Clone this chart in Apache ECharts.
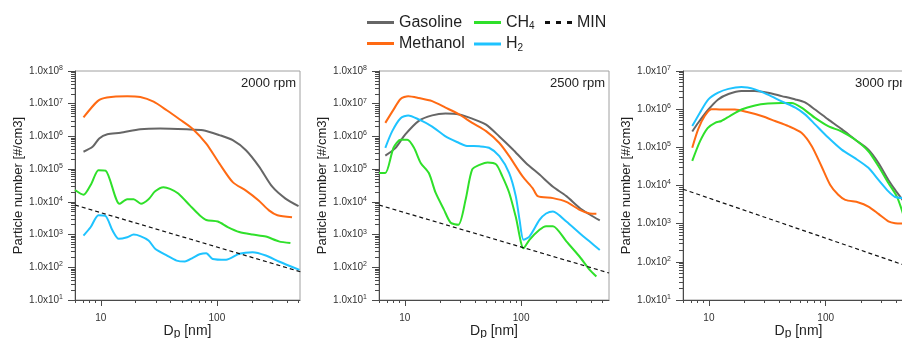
<!DOCTYPE html>
<html>
<head>
<meta charset="utf-8">
<script src="https://cdn.jsdelivr.net/npm/echarts@6.0.0/dist/echarts.min.js"></script>
<style>
  html, body { margin: 0; padding: 0; background: #fff; }
  #main { width: 902px; height: 338px; }
</style>
</head>
<body>
<div id="main"></div>
<script>
// Dp [nm] vs particle number [#/cm3]
const gas2000 = [[7.1,3.4e5],[8.5,4.8e5],[9.7,8.7e5],[11.4,1.17e6],[14.8,1.3e6],[21.9,1.65e6],[32.4,1.74e6],[55,1.65e6],[76,1.55e6],[105,1.1e6],[137,7.7e5],[178,3.8e5],[231,1.2e5],[300,2.9e4],[390,1.26e4],[505,7.4e3]];
const meth2000 = [[7.1,3.8e6],[9.4,1.2e7],[11.3,1.55e7],[16.9,1.7e7],[21.9,1.6e7],[28.5,1.15e7],[37,6.3e6],[48,3.3e6],[62,1.7e6],[81,6e5],[105,1.5e5],[137,4e4],[178,2.2e4],[229,1.1e4],[281,5.5e3],[332,3.9e3],[444,3.4e3]];
const ch42000 = [[6,2.3e4],[7.1,1.65e4],[8.3,3.6e4],[9.55,9.3e4],[11,9e4],[14.5,8.7e3],[16.9,1.2e4],[19.2,1.2e4],[22.2,8.7e3],[25.8,1.2e4],[29.4,2.1e4],[34.7,2.8e4],[39.5,2.5e4],[46.5,1.8e4],[58.5,7.8e3],[71,3.9e3],[81,2.8e3],[102,2.5e3],[124,1.7e3],[156,1.2e3],[203,1e3],[264,8.7e2],[342,6.2e2],[430,5.5e2]];
const h22000 = [[7.1,9.3e2],[8.2,1.7e3],[9.55,3.9e3],[11,3.7e3],[12.6,1.35e3],[14.3,7.4e2],[16.9,8.3e2],[19.2,1e3],[21.9,9e2],[25.8,6.6e2],[29.4,3.7e2],[37,2.3e2],[45,1.6e2],[53,1.5e2],[62,1.95e2],[71,2.5e2],[81,2.7e2],[92,1.8e2],[120,1.7e2],[156,2.6e2],[203,2.9e2],[264,2.3e2],[342,1.5e2],[515,83]];

const gas2500 = [[6.8,2.6e5],[8.3,4.4e5],[10.1,1.15e6],[13.2,3e6],[17.2,4.4e6],[22.4,5e6],[29.3,4.7e6],[38,3.5e6],[50,2.3e6],[65,1e6],[85,4e5],[110,1.55e5],[144,6.8e4],[188,2.9e4],[245,1.5e4],[319,6.5e3],[389,4.1e3],[475,2.7e3]];
const meth2500 = [[6.8,2.6e6],[8,6.6e6],[9.2,1.4e7],[10.7,1.7e7],[13.2,1.5e7],[17.2,1.2e7],[22.4,7.6e6],[29.3,4.7e6],[38,2.6e6],[50,1.45e6],[65,6.3e5],[79,2.5e5],[103,6e4],[126,2.6e4],[139,1.5e4],[188,1.3e4],[245,1e4],[319,5.7e3],[389,4.4e3],[444,4.3e3]];
const ch42500 = [[6,7.6e4],[6.8,7.6e4],[8,4.5e5],[9.2,7.9e5],[10.5,7.9e5],[12,4.5e5],[13.7,1.55e5],[16.1,7.6e4],[18.4,1.9e4],[21.7,5.8e3],[24.8,2.3e3],[28.9,2e3],[33.4,1.2e4],[38,9.8e4],[45,1.4e5],[51.5,1.6e5],[61,1.4e5],[69,6e4],[79,1.9e4],[90,3.5e3],[105,3.8e2],[118,6.9e2],[144,1.4e3],[164,1.8e3],[188,1.8e3],[245,6.2e2],[319,2.1e2],[389,83],[444,52]];
const h22500 = [[6.8,4.5e5],[7.8,1.45e6],[9.2,3.6e6],[10.7,4.4e6],[13.2,3.3e6],[17.2,2e6],[22.4,1e6],[29.3,6.3e5],[33.4,5.2e5],[43.6,5e5],[53,4.5e5],[65,2.5e5],[79,7.6e4],[90,1.5e4],[97,2.8e3],[105,6.9e2],[118,8.7e2],[144,2.8e3],[164,4.4e3],[188,5.1e3],[245,2.5e3],[319,1.1e3],[389,6.1e2],[475,3.4e2]];

const gas3000 = [[7.2,2.6e5],[8.1,4.4e5],[9.9,9.8e5],[12,1.8e6],[14.7,2.5e6],[19,3e6],[24.8,3e6],[32,2.7e6],[42,2.2e6],[55,1.8e6],[66.5,1.5e6],[81,9.8e5],[105,5.4e5],[137,3e5],[178,1.6e5],[232,8.7e4],[283,3.9e4],[344,1.4e4],[393,7.7e3],[466,3.8e3]];
const meth3000 = [[7.2,9.8e4],[8.1,3e5],[9.2,6.6e5],[10.5,1e6],[12.8,9.8e5],[16.7,9.8e5],[21.7,8.3e5],[28.3,6.6e5],[36.8,4.9e5],[48,3.6e5],[62,2.4e5],[76,1.07e5],[92,3.2e4],[109,1.05e4],[128,5.7e3],[147,4.2e3],[191,3.6e3],[232,2.8e3],[283,1.8e3],[344,1.15e3],[393,1.03e3],[466,1e3]];
const ch43000 = [[7.2,4.4e4],[8.4,1.45e5],[9.75,3.2e5],[11.3,4.4e5],[12.8,4.9e5],[15.1,6.6e5],[19,9.8e5],[24.8,1.25e6],[32,1.4e6],[42,1.45e6],[51,1.45e6],[62,1.1e6],[81,5.9e5],[105,3.6e5],[137,2.6e5],[178,1.6e5],[232,7.9e4],[283,3.2e4],[344,1.17e4],[406,5.2e3],[448,2.3e3],[466,1.55e3]];
const h23000 = [[7.2,3.6e5],[8.4,8.2e5],[9.9,1.8e6],[12,2.7e6],[14.7,3.4e6],[19,3.8e6],[24.8,3.3e6],[32,2.4e6],[42,1.6e6],[55,1.1e6],[66.5,7.3e5],[81,4e5],[105,1.8e5],[137,8.7e4],[178,5.2e4],[232,2.9e4],[283,1.4e4],[344,7e3],[393,5e3],[466,4.7e3]];

// detection limit, same straight line (log-log) in every panel
const minLine = [[6,8000],[570,67]];

const rpmLabels = ['2000 rpm', '2500 rpm', '3000 rpm'];
const dpMajor = [10, 100];
const dpMinor = [6,7,8,9,20,30,40,50,60,70,80,90,200,300,400,500];

const font = 'Liberation Sans, Arial, sans-serif';
const colors = { Gasoline: '#666666', Methanol: '#ff6a13', CH4: '#2fe02a', H2: '#1ec3ff', MIN: '#111111' };

const panels = [
  { left: 75,  width: 225, xMax: 520, yMax: 1e8, data: { Gasoline: gas2000, Methanol: meth2000, CH4: ch42000, H2: h22000 } },
  { left: 379, width: 230, xMax: 570, yMax: 1e8, data: { Gasoline: gas2500, Methanol: meth2500, CH4: ch42500, H2: h22500 } },
  { left: 683, width: 231, xMax: 570, yMax: 1e7, data: { Gasoline: gas3000, Methanol: meth3000, CH4: ch43000, H2: h23000 } }
];

function decades(max) {
  const major = [], minor = [];
  for (let e = 1; Math.pow(10, e) <= max; e++) {
    major.push(Math.pow(10, e));
    if (Math.pow(10, e) < max) for (let k = 2; k <= 9; k++) minor.push(k * Math.pow(10, e));
  }
  return { major, minor };
}

const axisColor = '#4a4a4a';
const grid = [], xAxis = [], yAxis = [], series = [], title = [];

panels.forEach((p, i) => {
  grid.push({ left: p.left, top: 71, width: p.width, height: 229, show: true,
    outerBoundsMode: 'none', containLabel: false,
    borderColor: '#a0a0a0', borderWidth: 1, backgroundColor: 'transparent' });

  xAxis.push({
    type: 'log', gridIndex: i, min: 6, max: p.xMax,
    axisLine: { show: true, onZero: false, lineStyle: { color: axisColor } },
    axisTick: { show: true, length: 6, customValues: dpMajor, lineStyle: { color: axisColor } },
    axisLabel: { show: true, customValues: dpMajor, fontSize: 10, margin: 13, color: '#333', fontFamily: font },
    splitLine: { show: false },
    name: 'D{sub|p} [nm]', nameLocation: 'middle', nameGap: 23, nameMoveOverlap: false,
    nameTextStyle: { fontSize: 14, color: '#222', fontFamily: font,
      rich: { sub: { fontSize: 12, fontFamily: font, color: '#222', padding: [5, 0, 0, 0] } } }
  });
  xAxis.push({
    type: 'log', gridIndex: i, min: 6, max: p.xMax, position: 'bottom',
    axisLine: { show: false },
    axisTick: { show: true, length: 3, customValues: dpMinor, lineStyle: { color: axisColor } },
    axisLabel: { show: false }, splitLine: { show: false }
  });

  const yt = decades(p.yMax);
  yAxis.push({
    type: 'log', gridIndex: i, min: 10, max: p.yMax,
    axisLine: { show: true, onZero: false, lineStyle: { color: axisColor } },
    axisTick: { show: true, length: 7, customValues: yt.major, lineStyle: { color: axisColor } },
    axisLabel: {
      show: true, customValues: yt.major, margin: 12, color: '#333',
      formatter: v => '{b|1.0x10}{sup|' + Math.round(Math.log10(v)) + '}',
      rich: {
        b: { fontSize: 10, fontFamily: font, color: '#333', lineHeight: 14 },
        sup: { fontSize: 7, fontFamily: font, color: '#333', lineHeight: 14, padding: [0, 0, 6, 0] }
      }
    },
    splitLine: { show: false },
    name: 'Particle number [#/cm3]', nameLocation: 'middle', nameGap: 50, nameMoveOverlap: false,
    nameTextStyle: { fontSize: 13, color: '#222', fontFamily: font }
  });
  yAxis.push({
    type: 'log', gridIndex: i, min: 10, max: p.yMax, position: 'left',
    axisLine: { show: false },
    axisTick: { show: true, length: 4, customValues: yt.minor, lineStyle: { color: axisColor } },
    axisLabel: { show: false }, splitLine: { show: false }
  });

  ['Gasoline', 'Methanol', 'CH4', 'H2'].forEach(name => {
    series.push({
      name, type: 'line', xAxisIndex: 2 * i, yAxisIndex: 2 * i,
      data: p.data[name], symbol: 'none', smooth: 0.25, clip: true,
      lineStyle: { color: colors[name], width: 2 }, itemStyle: { color: colors[name] }
    });
  });
  series.push({
    name: 'MIN', type: 'line', xAxisIndex: 2 * i, yAxisIndex: 2 * i,
    data: minLine, symbol: 'none', clip: true,
    lineStyle: { color: colors.MIN, width: 1.2, type: [4, 3] }, itemStyle: { color: colors.MIN }
  });

  title.push({
    text: rpmLabels[i], left: p.left + p.width - 4, top: 77, textAlign: 'right', padding: 0,
    textStyle: { fontSize: 13, fontWeight: 'normal', color: '#222', fontFamily: font }
  });
});

const legendBase = {
  orient: 'vertical', top: 14, padding: 0, itemWidth: 27, itemHeight: 3, itemGap: 4,
  textStyle: { fontSize: 16, color: '#222', fontFamily: font, lineHeight: 17,
    rich: { sub: { fontSize: 10, fontFamily: font, color: '#222', padding: [8, 0, 0, 0] } } },
  formatter: n => n === 'CH4' ? 'CH{sub|4}' : n === 'H2' ? 'H{sub|2}' : n,
  selectedMode: false
};
const dashIcon = 'path://M0,0h5v3h-5z M11,0h5v3h-5z M22,0h5v3h-5z';

const chart = echarts.init(document.getElementById('main'));
chart.setOption({
  animation: false,
  backgroundColor: '#fff',
  title,
  legend: [
    Object.assign({}, legendBase, { left: 367, data: [{ name: 'Gasoline', icon: 'rect' }, { name: 'Methanol', icon: 'rect' }] }),
    Object.assign({}, legendBase, { left: 474, data: [{ name: 'CH4', icon: 'rect' }, { name: 'H2', icon: 'rect' }] }),
    Object.assign({}, legendBase, { left: 545, data: [{ name: 'MIN', icon: dashIcon }] })
  ],
  grid, xAxis, yAxis, series
});
</script>
</body>
</html>
